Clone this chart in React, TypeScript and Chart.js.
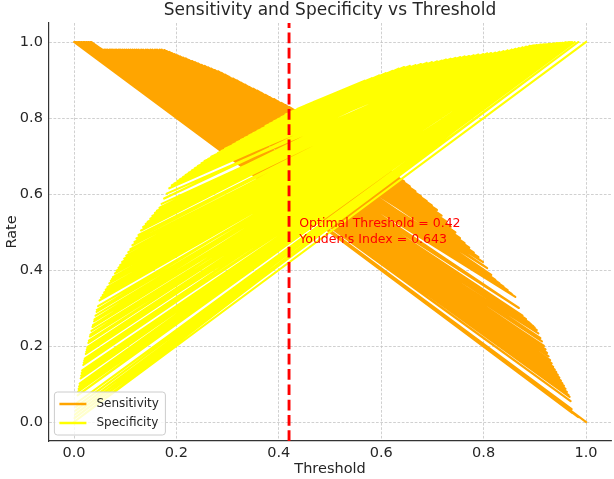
import React, { useEffect, useRef } from "react";
import { Chart, registerables } from "chart.js";

Chart.register(...registerables);

// Thresholds in the order they were evaluated (unsorted), with the rates at each.
const thresholds = [
  0.045, 0.893, 0.040, 0.907, 0.037, 0.900, 0.032, 0.914, 0.028, 0.921,
  0.025, 0.933, 0.023, 0.927, 0.020, 0.939, 0.018, 0.945, 0.015, 0.957,
  0.013, 0.951, 0.010, 0.963, 0.008, 0.968, 0.005, 0.978, 0.003, 0.972,
  0.001, 0.985,
  0.002, 0.966, 0.007, 0.954, 0.016, 0.960, 0.011, 0.942, 0.021, 0.948,
  0.031, 0.936, 0.026, 0.924, 0.036, 0.930, 0.042, 0.918, 0.059, 0.904,
  0.053, 0.911, 0.065, 0.897, 0.080, 0.883, 0.074, 0.890, 0.087, 0.876,
  0.094, 0.862, 0.118, 0.869, 0.102, 0.855, 0.126, 0.839, 0.135, 0.847,
  0.144, 0.831, 0.171, 0.815, 0.162, 0.823, 0.181, 0.807, 0.191, 0.790,
  0.213, 0.799, 0.202, 0.781, 0.224, 0.763, 0.249, 0.772, 0.262, 0.754,
  0.288, 0.736, 0.275, 0.745, 0.302, 0.727, 0.318, 0.709, 0.334, 0.718,
  0.366, 0.699, 0.350, 0.678, 0.382, 0.689, 0.398, 0.667, 0.413, 0.656,
  0.468, 0.522, 0.484, 0.505, 0.436, 0.538, 0.452, 0.568, 0.405, 0.553,
  0.420, 0.582, 0.390, 0.609, 0.358, 0.596, 0.374, 0.622, 0.342, 0.645,
  0.310, 0.634, 0.326, 0.656, 0.295, 0.678, 0.268, 0.667, 0.281, 0.689,
  0.255, 0.709, 0.236, 0.699, 0.242, 0.718, 0.230, 0.736, 0.207, 0.727,
  0.218, 0.745, 0.196, 0.763, 0.176, 0.754, 0.186, 0.772, 0.167, 0.790,
  0.153, 0.781, 0.158, 0.799, 0.149, 0.815, 0.131, 0.807, 0.140, 0.823,
  0.122, 0.839, 0.110, 0.831, 0.114, 0.847, 0.106, 0.862, 0.090, 0.855,
  0.098, 0.869, 0.083, 0.883, 0.072, 0.876, 0.076, 0.890, 0.069, 0.904,
  0.056, 0.897, 0.062, 0.911, 0.050, 0.924, 0.044, 0.918, 0.047, 0.930,
  0.039, 0.942, 0.029, 0.936, 0.034, 0.948, 0.024, 0.960, 0.014, 0.954,
  0.019, 0.966, 0.009, 0.973, 0.004, 0.970, 0.000, 1.000,
];

const sensitivity = [
  0.980, 0.257, 0.980, 0.233, 0.980, 0.248, 1.000, 0.212, 1.000, 0.191,
  1.000, 0.154, 1.000, 0.173, 1.000, 0.138, 1.000, 0.124, 1.000, 0.095,
  1.000, 0.109, 1.000, 0.079, 1.000, 0.066, 1.000, 0.020, 1.000, 0.034,
  1.000, 0.013,
  1.000, 0.071, 1.000, 0.102, 1.000, 0.087, 1.000, 0.131, 1.000, 0.117,
  1.000, 0.145, 1.000, 0.182, 0.980, 0.163, 0.980, 0.200, 0.980, 0.242,
  0.980, 0.221, 0.980, 0.252, 0.980, 0.271, 0.980, 0.261, 0.980, 0.280,
  0.980, 0.329, 0.980, 0.300, 0.980, 0.337, 0.980, 0.356, 0.980, 0.347,
  0.980, 0.365, 0.980, 0.387, 0.980, 0.374, 0.976, 0.405, 0.971, 0.434,
  0.959, 0.421, 0.965, 0.446, 0.953, 0.471, 0.940, 0.459, 0.933, 0.484,
  0.919, 0.514, 0.926, 0.499, 0.909, 0.528, 0.899, 0.558, 0.888, 0.543,
  0.866, 0.570, 0.877, 0.594, 0.855, 0.581, 0.844, 0.607, 0.834, 0.620,
  0.792, 0.744, 0.778, 0.759, 0.819, 0.730, 0.806, 0.704, 0.840, 0.717,
  0.829, 0.692, 0.850, 0.668, 0.872, 0.680, 0.861, 0.657, 0.882, 0.633,
  0.904, 0.645, 0.893, 0.620, 0.914, 0.594, 0.930, 0.607, 0.923, 0.581,
  0.937, 0.558, 0.947, 0.570, 0.944, 0.543, 0.950, 0.514, 0.962, 0.528,
  0.957, 0.499, 0.968, 0.471, 0.979, 0.484, 0.974, 0.459, 0.980, 0.434,
  0.980, 0.446, 0.980, 0.421, 0.980, 0.387, 0.980, 0.405, 0.980, 0.374,
  0.980, 0.356, 0.980, 0.365, 0.980, 0.347, 0.980, 0.329, 0.980, 0.337,
  0.980, 0.300, 0.980, 0.271, 0.980, 0.280, 0.980, 0.261, 0.980, 0.242,
  0.980, 0.252, 0.980, 0.221, 0.980, 0.182, 0.980, 0.200, 0.980, 0.163,
  0.980, 0.131, 1.000, 0.145, 1.000, 0.117, 1.000, 0.087, 1.000, 0.102,
  1.000, 0.071, 1.000, 0.024, 1.000, 0.055, 1.000, 0.000,
];

const specificity = [
  0.295, 0.990, 0.270, 0.992, 0.255, 0.991, 0.230, 0.993, 0.208, 0.994,
  0.191, 0.995, 0.179, 0.995, 0.162, 0.996, 0.150, 0.997, 0.129, 0.998,
  0.115, 0.998, 0.094, 0.999, 0.080, 1.000, 0.050, 1.000, 0.030, 1.000,
  0.010, 1.000,
  0.020, 0.999, 0.070, 0.998, 0.136, 0.999, 0.101, 0.997, 0.167, 0.997,
  0.225, 0.996, 0.197, 0.994, 0.250, 0.995, 0.280, 0.994, 0.341, 0.992,
  0.327, 0.993, 0.355, 0.991, 0.391, 0.988, 0.376, 0.990, 0.406, 0.986,
  0.421, 0.982, 0.474, 0.984, 0.438, 0.980, 0.492, 0.976, 0.513, 0.978,
  0.527, 0.974, 0.574, 0.971, 0.556, 0.972, 0.601, 0.970, 0.623, 0.967,
  0.645, 0.968, 0.634, 0.965, 0.656, 0.962, 0.681, 0.963, 0.692, 0.960,
  0.713, 0.956, 0.703, 0.958, 0.724, 0.954, 0.736, 0.949, 0.748, 0.951,
  0.772, 0.947, 0.760, 0.942, 0.785, 0.945, 0.797, 0.939, 0.809, 0.937,
  0.842, 0.872, 0.851, 0.862, 0.824, 0.881, 0.833, 0.898, 0.802, 0.889,
  0.814, 0.905, 0.791, 0.918, 0.766, 0.912, 0.779, 0.924, 0.754, 0.934,
  0.730, 0.930, 0.742, 0.937, 0.719, 0.942, 0.698, 0.939, 0.708, 0.945,
  0.687, 0.949, 0.668, 0.947, 0.674, 0.951, 0.662, 0.956, 0.639, 0.954,
  0.650, 0.958, 0.628, 0.962, 0.588, 0.960, 0.615, 0.963, 0.564, 0.967,
  0.542, 0.965, 0.550, 0.968, 0.535, 0.971, 0.504, 0.970, 0.521, 0.972,
  0.483, 0.976, 0.455, 0.974, 0.465, 0.978, 0.447, 0.982, 0.413, 0.980,
  0.430, 0.984, 0.398, 0.988, 0.372, 0.986, 0.381, 0.990, 0.365, 0.992,
  0.334, 0.991, 0.348, 0.993, 0.320, 0.994, 0.290, 0.994, 0.305, 0.995,
  0.265, 0.997, 0.214, 0.996, 0.240, 0.997, 0.185, 0.999, 0.122, 0.998,
  0.156, 0.999, 0.087, 1.000, 0.040, 1.000, 0.000, 1.000,
];

const optimalThreshold = 0.42;
const youdenIndex = 0.643;

const xTicks = [0.0, 0.2, 0.4, 0.6, 0.8, 1.0];
const yTicks = [0.0, 0.2, 0.4, 0.6, 0.8, 1.0];

const FONT = "'DejaVu Sans', 'Liberation Sans', sans-serif";
const INK = "#262626";
const ORANGE = "#ffa500";
const YELLOW = "#ffff00";
const RED = "#ff0000";
const LINE_WIDTH = 2.1;

export default function App() {
  const canvasRef = useRef<HTMLCanvasElement>(null);

  useEffect(() => {
    document.body.style.margin = "0";
    const canvas = canvasRef.current;
    if (!canvas) return;

    const overlay = {
      id: "overlay",
      afterDraw(chart: any) {
        const { ctx, chartArea: ca, scales } = chart;
        const xs = scales.x;
        const ys = scales.y;
        ctx.save();

        // Title
        ctx.fillStyle = INK;
        ctx.font = `17px ${FONT}`;
        ctx.textAlign = "center";
        ctx.textBaseline = "middle";
        ctx.fillText("Sensitivity and Specificity vs Threshold", (ca.left + ca.right) / 2, 11);

        // Axis titles
        ctx.font = `14.5px ${FONT}`;
        ctx.fillText("Threshold", (ca.left + ca.right) / 2, 469);
        ctx.save();
        ctx.translate(12, (ca.top + ca.bottom) / 2);
        ctx.rotate(-Math.PI / 2);
        ctx.fillText("Rate", 0, 0);
        ctx.restore();

        // Annotation next to the optimal threshold line
        ctx.fillStyle = RED;
        ctx.font = `12.5px ${FONT}`;
        ctx.textAlign = "left";
        const tx = xs.getPixelForValue(optimalThreshold + 0.02);
        const ty = ys.getPixelForValue(0.5);
        ctx.fillText(`Optimal Threshold = ${optimalThreshold}`, tx, ty - 8);
        ctx.fillText(`Youden's Index = ${youdenIndex}`, tx, ty + 8);

        // Legend (lower left)
        const bx = ca.left + 6;
        const bw = 111;
        const bh = 43;
        const by = ca.bottom - 6 - bh;
        ctx.beginPath();
        ctx.roundRect(bx, by, bw, bh, 3);
        ctx.fillStyle = "rgba(255,255,255,0.8)";
        ctx.fill();
        ctx.strokeStyle = "#cccccc";
        ctx.lineWidth = 1;
        ctx.stroke();

        const items = [
          { label: "Sensitivity", color: ORANGE },
          { label: "Specificity", color: YELLOW },
        ];
        ctx.font = `12px ${FONT}`;
        ctx.textBaseline = "middle";
        items.forEach((it, i) => {
          const cy = by + 12 + i * 19;
          ctx.beginPath();
          ctx.moveTo(bx + 5, cy);
          ctx.lineTo(bx + 32, cy);
          ctx.strokeStyle = it.color;
          ctx.lineWidth = 2.5;
          ctx.stroke();
          ctx.fillStyle = INK;
          ctx.fillText(it.label, bx + 42, cy);
        });
        ctx.restore();
      },
    };

    const sensPoints = thresholds.map((t, i) => ({ x: t, y: sensitivity[i] }));
    const specPoints = thresholds.map((t, i) => ({ x: t, y: specificity[i] }));

    const chart = new Chart(canvas, {
      type: "line",
      data: {
        datasets: [
          {
            label: "Sensitivity",
            data: sensPoints,
            borderColor: ORANGE,
            borderWidth: LINE_WIDTH,
            pointRadius: 0,
            tension: 0,
            borderJoinStyle: "round",
            borderCapStyle: "square",
            order: 2,
          },
          {
            label: "Specificity",
            data: specPoints,
            borderColor: YELLOW,
            borderWidth: LINE_WIDTH,
            pointRadius: 0,
            tension: 0,
            borderJoinStyle: "round",
            borderCapStyle: "square",
            order: 1,
          },
          {
            label: "Optimal Threshold",
            data: [
              { x: optimalThreshold, y: -0.05 },
              { x: optimalThreshold, y: 1.05 },
            ],
            borderColor: RED,
            borderWidth: 2.9,
            borderDash: [10.7, 4.6],
            pointRadius: 0,
            order: 0,
          },
        ],
      },
      options: {
        responsive: false,
        animation: false,
        events: [],
        layout: { padding: { top: 23, right: 2.4, left: 0, bottom: 0 } },
        plugins: {
          legend: { display: false },
          title: { display: false },
          tooltip: { enabled: false },
        },
        scales: {
          x: {
            type: "linear",
            min: -0.05,
            max: 1.05,
            afterBuildTicks: (s: any) => {
              s.ticks = xTicks.map((v) => ({ value: v }));
            },
            afterFit: (s: any) => {
              s.height = 38;
            },
            ticks: {
              autoSkip: false,
              maxRotation: 0,
              padding: 4,
              color: INK,
              font: { family: FONT, size: 14.5 },
              callback: (v: any) => Number(v).toFixed(1),
            },
            grid: { color: "#c4c4c4", lineWidth: 0.8, drawTicks: false },
            border: { display: true, color: "#333333", width: 1.2, dash: [2.7, 1.6] },
          },
          y: {
            type: "linear",
            min: -0.05,
            max: 1.05,
            afterBuildTicks: (s: any) => {
              s.ticks = yTicks.map((v) => ({ value: v }));
            },
            afterFit: (s: any) => {
              s.width = 48.4;
            },
            ticks: {
              autoSkip: false,
              padding: 5.5,
              color: INK,
              font: { family: FONT, size: 14.5 },
              callback: (v: any) => Number(v).toFixed(1),
            },
            grid: { color: "#c4c4c4", lineWidth: 0.8, drawTicks: false },
            border: { display: true, color: "#333333", width: 1.2, dash: [2.7, 1.6] },
          },
        },
      },
      plugins: [overlay],
    });

    return () => chart.destroy();
  }, []);

  return (
    <div style={{ width: 614, height: 479 }}>
      <canvas ref={canvasRef} width={614} height={479} style={{ display: "block" }} />
    </div>
  );
}
